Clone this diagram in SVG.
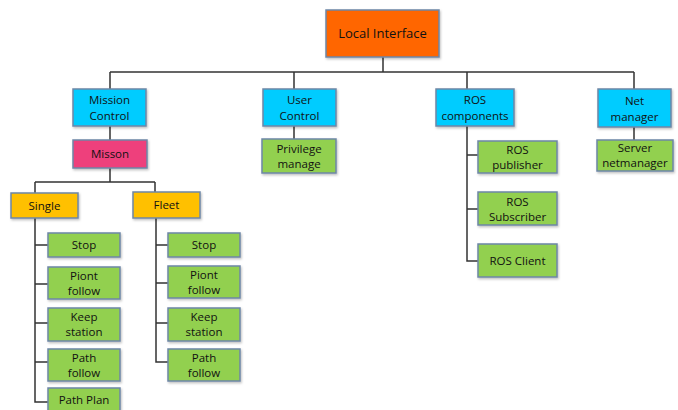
<svg xmlns="http://www.w3.org/2000/svg" width="678" height="410" viewBox="0 0 678 410">
<defs>
<filter id="sh" x="-10%" y="-10%" width="130%" height="140%"><feDropShadow dx="1" dy="1.5" stdDeviation="1" flood-color="#000" flood-opacity="0.25"/></filter>
</defs>
<style>
rect{stroke:#6E86A6;stroke-width:1.5;filter:url(#sh)}
.or{fill:#FF6600}.bl{fill:#00CCFF}.pk{fill:#EE3F7B}.ye{fill:#FFC000}.gr{fill:#92D050}
text{font-family:"Open Sans","Liberation Sans",sans-serif;font-size:11.5px;fill:#111;text-anchor:middle}
.big{font-size:13px}
#connectors path{fill:none;stroke:#333;stroke-width:1.5}
</style>
<rect width="678" height="410" fill="#fff" style="stroke:none;filter:none"/>
<g id="connectors">
<path d="M383 57V72M110 72H634M110 72V89M294 72V89M467 72V89M634 72V89"/>
<path d="M110 126V140M110 168V182M35 182H155M35 182V193M155 182V192"/>
<path d="M294 126V139M634 127V140"/>
<path d="M467 126V261H478M467 155H478M467 209H478"/>
<path d="M35 218V402H48M35 245H48M35 284H48M35 323H48M35 362H48"/>
<path d="M156 218V362H168M156 245H168M156 283H168M156 323H168"/>
</g>
<g id="local"><rect class="or" x="326" y="10" width="113" height="47"/><text class="big" x="382.5" y="38">Local Interface</text></g>
<g id="mission"><rect class="bl" x="73" y="89" width="73" height="37"/><text x="109.5" y="104">Mission</text><text x="109.5" y="120">Control</text></g>
<g id="user"><rect class="bl" x="263" y="89" width="73" height="37"/><text x="299.5" y="104">User</text><text x="299.5" y="120">Control</text></g>
<g id="ros"><rect class="bl" x="436" y="89" width="78" height="37"/><text x="475" y="104">ROS</text><text x="475" y="120">components</text></g>
<g id="net"><rect class="bl" x="598" y="89" width="73" height="38"/><text x="634.5" y="105">Net</text><text x="634.5" y="121">manager</text></g>
<g id="misson"><rect class="pk" x="73" y="140" width="74" height="28"/><text x="110" y="158">Misson</text></g>
<g id="privilege"><rect class="gr" x="262" y="139" width="74" height="34"/><text x="299" y="153">Privilege</text><text x="299" y="168">manage</text></g>
<g id="rospub"><rect class="gr" x="478" y="141" width="79" height="32"/><text x="517.5" y="154">ROS</text><text x="517.5" y="169">publisher</text></g>
<g id="rossub"><rect class="gr" x="478" y="192" width="79" height="33"/><text x="517.5" y="206">ROS</text><text x="517.5" y="221">Subscriber</text></g>
<g id="rosclient"><rect class="gr" x="478" y="244" width="79" height="33"/><text x="517.5" y="265">ROS Client</text></g>
<g id="server"><rect class="gr" x="597" y="140" width="76" height="31"/><text x="635" y="152">Server</text><text x="635" y="167">netmanager</text></g>
<g id="single"><rect class="ye" x="11" y="193" width="67" height="25"/><text x="44.5" y="210">Single</text></g>
<g id="fleet"><rect class="ye" x="133" y="192" width="67" height="26"/><text x="166.5" y="209">Fleet</text></g>
<g id="s-stop"><rect class="gr" x="48" y="233" width="72" height="24"/><text x="84" y="249">Stop</text></g>
<g id="s-piont"><rect class="gr" x="48" y="267" width="72" height="32"/><text x="84" y="280">Piont</text><text x="84" y="295">follow</text></g>
<g id="s-keep"><rect class="gr" x="48" y="308" width="72" height="33"/><text x="84" y="321">Keep</text><text x="84" y="336">station</text></g>
<g id="s-path"><rect class="gr" x="48" y="349" width="72" height="32"/><text x="84" y="362">Path</text><text x="84" y="377">follow</text></g>
<g id="s-plan"><rect class="gr" x="48" y="388" width="72" height="30"/><text x="84" y="404">Path Plan</text></g>
<g id="f-stop"><rect class="gr" x="168" y="233" width="72" height="24"/><text x="204" y="249">Stop</text></g>
<g id="f-piont"><rect class="gr" x="168" y="266" width="72" height="32"/><text x="204" y="279">Piont</text><text x="204" y="294">follow</text></g>
<g id="f-keep"><rect class="gr" x="168" y="308" width="72" height="33"/><text x="204" y="321">Keep</text><text x="204" y="336">station</text></g>
<g id="f-path"><rect class="gr" x="168" y="349" width="72" height="32"/><text x="204" y="362">Path</text><text x="204" y="377">follow</text></g>
</svg>
